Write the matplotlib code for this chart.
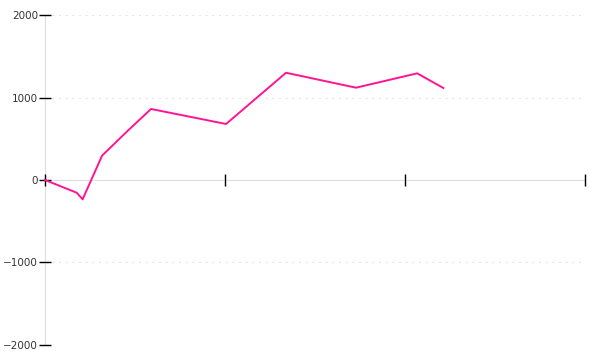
import matplotlib
matplotlib.use("Agg")
import matplotlib.pyplot as plt

# series (x in tick units, y values)
xs = [0.0, 0.176, 0.209, 0.317, 0.454, 0.589, 1.006, 1.339, 1.728, 2.068, 2.213]
ys = [0, -154, -234, 295, 585, 861, 679, 1300, 1119, 1293, 1115]

y_ticks = [-2000, -1000, 0, 1000, 2000]
x_ticks = [0, 1, 2, 3]

fig = plt.figure(figsize=(6, 3.6), dpi=100)
ax = fig.add_axes([0.075, 0.0417, 0.9, 0.9166])

ax.plot(xs, ys, color="#ff1493", linewidth=1.4, clip_on=False, zorder=4)

ax.set_xlim(0, 3)
ax.set_ylim(-2000, 2000)

# dotted grid lines for non-zero y ticks
for v in y_ticks:
    if v != 0:
        ax.axhline(v, color="#e6e6e6", linestyle=(0, (2, 4)), linewidth=0.8, zorder=0)

for s in ["top", "right"]:
    ax.spines[s].set_visible(False)
ax.spines["left"].set_color("#dddddd")
ax.spines["bottom"].set_color("#dddddd")
ax.spines["bottom"].set_position(("data", 0))
ax.spines["left"].set_zorder(1)
ax.spines["bottom"].set_zorder(1)
ax.xaxis.set_zorder(3)
ax.yaxis.set_zorder(3)

ax.set_yticks(y_ticks)
ax.set_yticklabels([str(v).replace("-", "\u2212") for v in y_ticks])
ax.set_xticks(x_ticks)
ax.set_xticklabels([])

ax.tick_params(axis="y", direction="inout", length=8, width=1, color="#000000",
               labelsize=7.5, labelcolor="#333333", pad=1)
ax.tick_params(axis="x", direction="inout", length=8, width=1, color="#000000")

fig.savefig("out.png", dpi=100)
